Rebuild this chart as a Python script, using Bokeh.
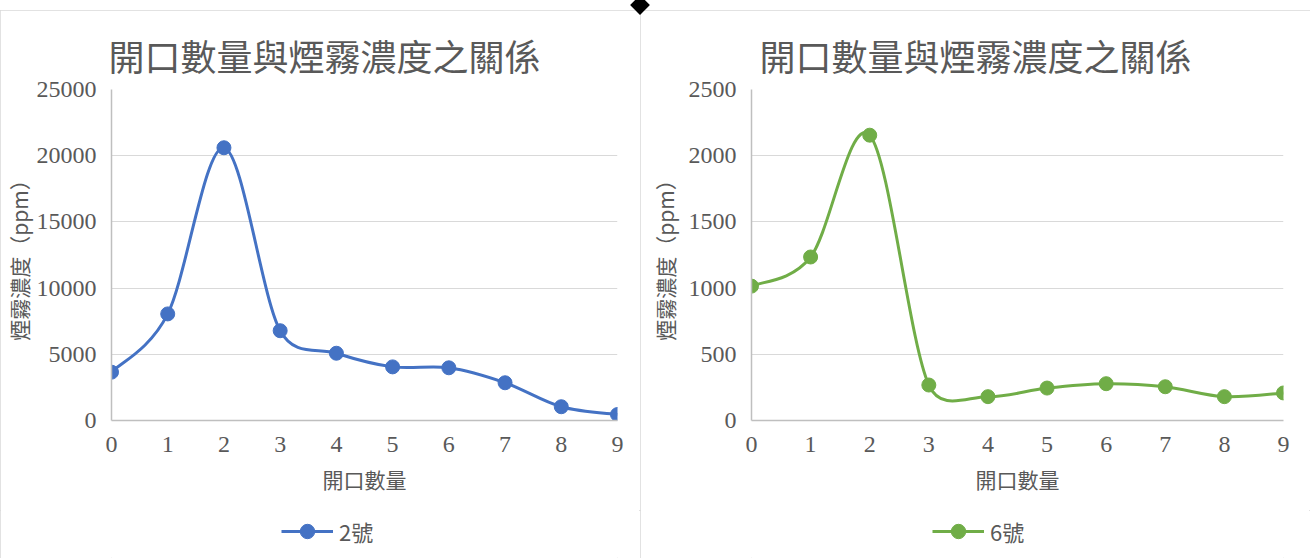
import math
from bokeh.plotting import figure
from bokeh.models import FixedTicker, NumeralTickFormatter, Legend, LegendItem, Title, Div, Range1d
from bokeh.layouts import row, column
from bokeh.embed import file_html
from bokeh.resources import INLINE

# ---- data ----
openings = [0, 1, 2, 3, 4, 5, 6, 7, 8, 9]
smoke_no2 = [3650, 8050, 20600, 6780, 5080, 4050, 3980, 2850, 1040, 450]
smoke_no6 = [1015, 1235, 2155, 268, 180, 245, 278, 255, 180, 208]
ticks_no2 = [0, 5000, 10000, 15000, 20000, 25000]
ticks_no6 = [0, 500, 1000, 1500, 2000, 2500]
title_text = "開口數量與煙霧濃度之關係"
x_label = "開口數量"
y_label = "煙霧濃度（ppm）"
label_no2 = "2號"
label_no6 = "6號"

TEXT = "#595959"
CJK = "Noto Sans CJK TC"
NUM = "Liberation Serif"
FRAME_H = 331
CHART_H = 500
LEG_H = 48


def smooth_segments(xs, ys, sx, sy):
    """Excel-like smoothed line: cubic Bezier control points (tension 1/6,
    control vector limited to half of the segment length in screen space)."""
    n = len(xs)

    def dist(i, j):
        return math.hypot((xs[j] - xs[i]) * sx, (ys[j] - ys[i]) * sy)

    seg = dict(x0=[], y0=[], x1=[], y1=[], cx0=[], cy0=[], cx1=[], cy1=[])
    for i in range(n - 1):
        a = i - 1 if i > 0 else i
        b = i + 2 if i + 2 < n else i + 1
        d12 = dist(i, i + 1)
        d02 = dist(a, i + 1)
        d13 = dist(i, b)
        f1 = 1 / 6
        f2 = 1 / 6
        if d02 > 0 and d02 / 6 >= d12 / 2:
            f1 = d12 / d02 / 2
        if d13 > 0 and d13 / 6 >= d12 / 2:
            f2 = d12 / d13 / 2
        seg["x0"].append(xs[i]); seg["y0"].append(ys[i])
        seg["x1"].append(xs[i + 1]); seg["y1"].append(ys[i + 1])
        seg["cx0"].append(xs[i] + (xs[i + 1] - xs[a]) * f1)
        seg["cy0"].append(ys[i] + (ys[i + 1] - ys[a]) * f1)
        seg["cx1"].append(xs[i + 1] - (xs[b] - xs[i]) * f2)
        seg["cy1"].append(ys[i + 1] - (ys[b] - ys[i]) * f2)
    return seg


def make_chart(values, ticks, color, label, width, frame_w, bl, br, ylab_standoff,
               title_offset, legend_x):
    p = figure(width=width, height=CHART_H,
               x_range=(0, 9), y_range=(ticks[0], ticks[-1]),
               output_backend="svg", toolbar_location=None,
               min_border_left=bl, min_border_right=br, min_border_top=79,
               min_border_bottom=CHART_H - 79 - FRAME_H,
               outline_line_color=None, background_fill_color="white", border_fill_color="white")
    p.title = Title(text=title_text, align="left", offset=title_offset, text_font=CJK,
                    text_font_size="36px", text_font_style="normal", text_color=TEXT, standoff=17)

    p.xaxis.ticker = FixedTicker(ticks=openings)
    p.yaxis.ticker = FixedTicker(ticks=ticks)
    p.yaxis.formatter = NumeralTickFormatter(format="0")
    for ax in (p.xaxis, p.yaxis):
        ax.axis_line_color = "#bfbfbf"
        ax.axis_line_width = 1.5
        ax.major_tick_line_color = None
        ax.minor_tick_line_color = None
        ax.major_tick_out = 0
        ax.major_tick_in = 0
        ax.minor_tick_out = 0
        ax.minor_tick_in = 0
        ax.major_label_text_font = NUM
        ax.major_label_text_font_size = "24px"
        ax.major_label_text_color = TEXT
        ax.axis_label_text_font = CJK
        ax.axis_label_text_font_size = "21px"
        ax.axis_label_text_font_style = "normal"
        ax.axis_label_text_color = TEXT
    p.xaxis.axis_label = x_label
    p.yaxis.axis_label = y_label
    p.xaxis.major_label_standoff = 16
    p.xaxis.axis_label_standoff = 9
    p.yaxis.major_label_standoff = 15
    p.yaxis.axis_label_standoff = ylab_standoff

    p.xgrid.grid_line_color = None
    p.ygrid.ticker = FixedTicker(ticks=ticks)
    p.ygrid.grid_line_color = "#d9d9d9"
    p.ygrid.grid_line_width = 1

    sx = frame_w / (openings[-1] - openings[0])
    sy = FRAME_H / (ticks[-1] - ticks[0])
    seg = smooth_segments(openings, values, sx, sy)
    p.bezier(line_color=color, line_width=3, source=seg)
    p.scatter(openings, values, size=14, color=color)

    # legend strip under the chart (its own canvas, so the legend is not clipped).
    # The series is drawn there too, but entirely outside the strip's visible range;
    # it only supplies the legend's line + marker sample.
    lf = figure(width=width, height=LEG_H, x_range=Range1d(0, 1), y_range=Range1d(-1, 0),
                output_backend="svg", toolbar_location=None, min_border=0,
                x_axis_type=None, y_axis_type=None, outline_line_color=None,
                background_fill_color="white", border_fill_color="white")
    lf.xgrid.visible = False
    lf.ygrid.visible = False
    ln = lf.line(openings, values, line_color=color, line_width=3)
    sc = lf.scatter(openings, values, size=14, color=color)
    legend = Legend(items=[LegendItem(label=label, renderers=[ln, sc])],
                    location=(legend_x, 9), orientation="horizontal",
                    glyph_width=52, glyph_height=36, label_standoff=6,
                    border_line_color=None, background_fill_alpha=0, padding=0, margin=0,
                    label_text_font=CJK, label_text_font_size="22px", label_text_color=TEXT)
    lf.add_layout(legend, "center")

    box = column(p, lf)
    box.margin = (10, 0, 0, 0)
    box.styles = {"outline": "1px solid #d9d9d9", "outline-offset": "-1px"}
    return box


c1 = make_chart(smoke_no2, ticks_no2, "#4472C4", label_no2, 640, 506, 111, 23, 0, -3, 170)
c2 = make_chart(smoke_no6, ticks_no6, "#70AD47", label_no6, 670, 532, 111, 27, 6, 8, 181)

marker = Div(text="", width=14, height=14,
             styles={"position": "fixed", "left": "628px", "top": "-7px",
                     "background": "black", "transform": "rotate(45deg)"})

layout = column(row(c1, c2), marker)
open("out.html", "w").write(file_html(layout, INLINE))
